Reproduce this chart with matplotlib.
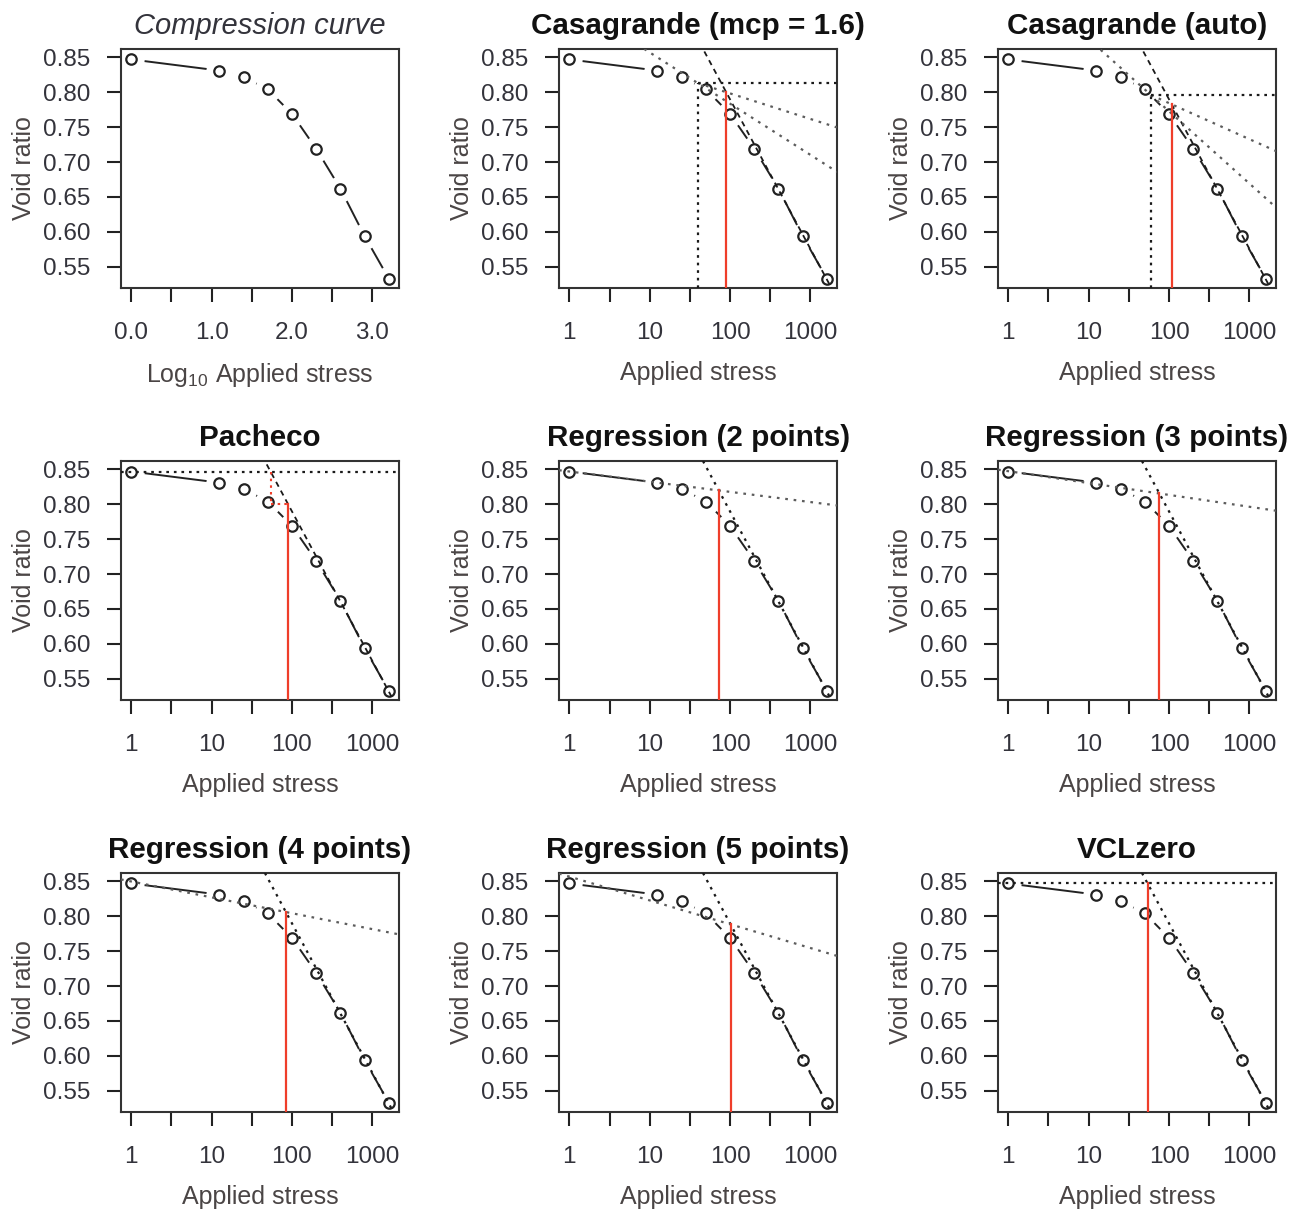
import numpy as np
import matplotlib
matplotlib.use("Agg")
import matplotlib.pyplot as plt

plt.rcParams['font.family'] = ['Liberation Sans', 'DejaVu Sans']
plt.rcParams['mathtext.fontset'] = 'custom'
plt.rcParams['mathtext.rm'] = 'Liberation Sans'
plt.rcParams['mathtext.it'] = 'Liberation Sans:italic'

# compression test data
stress = [1, 12.5, 25, 50, 100, 200, 400, 800, 1600]
void_ratio = [0.847, 0.831, 0.822, 0.804, 0.769, 0.719, 0.662, 0.594, 0.533]

titles = ["Compression curve", "Casagrande (mcp = 1.6)", "Casagrande (auto)",
          "Pacheco", "Regression (2 points)", "Regression (3 points)",
          "Regression (4 points)", "Regression (5 points)", "VCLzero"]

# max curvature points (log10 stress)
casa_mcp = [1.6, 1.775]
casa_e = [0.813, 0.796]
casa_slope = [-0.0734, -0.1035]

reg_points = [2, 3, 4, 5]
vcl_points = 3  # last points used for the compression line

yticks = [0.55, 0.60, 0.65, 0.70, 0.75, 0.80, 0.85]
ylim = (0.5195, 0.862)
lxlim = (-0.128, 3.332)

TXT = '#33333b'
LAB = '#4a4545'
RED = '#ef3e2a'
GREY = '#5c5c5c'
DARK = '#1a1a1a'

lx_data = np.log10(stress)
e_data = np.array(void_ratio)
vcl_b, vcl_a = np.polyfit(lx_data[-vcl_points:], e_data[-vcl_points:], 1)


def vcl_x(e):
    return (e - vcl_a) / vcl_b


def meet(a, b):
    # intersection of e = a + b*lx with the compression line
    lx = (vcl_a - a) / (b - vcl_b)
    return lx, a + b * lx


def full_line(ax, a, b, **kw):
    lx = np.array(lxlim)
    ax.plot(10 ** lx, a + b * lx, zorder=3, **kw)


fig = plt.figure(figsize=(12.98, 12.12), dpi=100)
col_left = [0.0932, 0.4307, 0.7689]
row_bottom = [0.7624, 0.4224, 0.0825]
w, h = 0.2142, 0.1972

for i, title in enumerate(titles):
    ax = fig.add_axes([col_left[i % 3], row_bottom[i // 3], w, h])
    if i == 0:
        x = lx_data
        ax.set_xlim(lxlim)
        ax.set_xticks([0, 0.5, 1, 1.5, 2, 2.5, 3])
        ax.set_xticklabels(["0.0", "", "1.0", "", "2.0", "", "3.0"])
        ax.set_xlabel("Log$_{10}$ Applied stress", fontsize=18, color=LAB, labelpad=12)
        ax.set_title(title, fontsize=21, style='italic', color=TXT, pad=11)
    else:
        x = np.array(stress)
        ax.set_xscale('log')
        ax.set_xlim(10 ** lxlim[0], 10 ** lxlim[1])
        ax.set_xticks(10 ** np.array([0, 0.5, 1, 1.5, 2, 2.5, 3]))
        ax.set_xticklabels(["1", "", "10", "", "100", "", "1000"])
        ax.minorticks_off()
        ax.set_xlabel("Applied stress", fontsize=18, color=LAB, labelpad=12)
        ax.set_title(title, fontsize=21.3, fontweight='bold', color='#111111', pad=11)

    ax.set_ylim(ylim)
    ax.set_yticks(yticks)
    ax.set_yticklabels(["%.2f" % v for v in yticks])
    ax.set_ylabel("Void ratio", fontsize=18, color=LAB, labelpad=5)
    ax.tick_params(axis='both', direction='out', length=10, width=1.5,
                   labelsize=17.5, labelcolor=TXT, color='#222222')
    ax.tick_params(axis='x', pad=14.5)
    ax.tick_params(axis='y', pad=12)
    for s in ax.spines.values():
        s.set_linewidth(1.5)
        s.set_color('#333333')

    # data line with gaps around the points
    ax.plot(x, e_data, color='#222222', lw=1.4, zorder=2)
    ax.plot(x, e_data, ls='none', marker='o', ms=19, mfc='white', mec='none', zorder=2.1)
    ax.plot(x, e_data, ls='none', marker='o', ms=7.5, mfc='none', mec='#222222',
            mew=1.6, zorder=2.2)

    if i == 0:
        continue

    if i in (1, 2):
        k = i - 1
        m, em, sl = casa_mcp[k], casa_e[k], casa_slope[k]
        bis = -np.tan(np.arctan(-sl) / 2)
        full_line(ax, vcl_a, vcl_b, color=DARK, lw=1.3, ls=(0, (3, 2.5)))
        full_line(ax, em - sl * m, sl, color=GREY, lw=1.6, ls=(0, (1.2, 2.6)))
        lxr = np.array([m, lxlim[1]])
        ax.plot(10 ** lxr, em + bis * (lxr - m), color=GREY, lw=1.6,
                ls=(0, (1.2, 2.6)), zorder=3)
        ax.plot(10 ** lxr, [em, em], color=DARK, lw=1.6, ls=(0, (1.2, 2.2)), zorder=3)
        ax.plot([10 ** m, 10 ** m], [ylim[0], em], color=DARK, lw=1.6,
                ls=(0, (1.2, 2.2)), zorder=3)
        px, pe = meet(em - bis * m, bis)
        ax.plot([10 ** px, 10 ** px], [ylim[0], pe], color=RED, lw=1.6, zorder=4)
    elif i == 3:
        e0 = e_data[0]
        full_line(ax, vcl_a, vcl_b, color=DARK, lw=1.3, ls=(0, (3, 2.5)))
        full_line(ax, e0, 0, color=DARK, lw=1.6, ls=(0, (1.2, 2.2)))
        x1 = vcl_x(e0)
        e1 = np.interp(x1, lx_data, e_data)
        x2 = vcl_x(e1)
        ax.plot([10 ** x1, 10 ** x1], [e0, e1], color=RED, lw=1.5, ls=(0, (1.2, 2)), zorder=4)
        ax.plot([10 ** x1, 10 ** x2], [e1, e1], color=RED, lw=1.5, ls=(0, (1.2, 2)), zorder=4)
        ax.plot([10 ** x2, 10 ** x2], [ylim[0], e1], color=RED, lw=1.6, zorder=4)
    elif i == 8:
        e0 = e_data[0]
        full_line(ax, vcl_a, vcl_b, color=DARK, lw=1.6, ls=(0, (1.2, 2.4)))
        full_line(ax, e0, 0, color=DARK, lw=1.6, ls=(0, (1.2, 2.2)))
        x1 = vcl_x(e0)
        ax.plot([10 ** x1, 10 ** x1], [ylim[0], e0], color=RED, lw=1.6, zorder=4)
    else:
        n = reg_points[i - 4]
        b, a = np.polyfit(lx_data[:n], e_data[:n], 1)
        full_line(ax, vcl_a, vcl_b, color=DARK, lw=1.6, ls=(0, (1.2, 2.4)))
        full_line(ax, a, b, color=GREY, lw=1.6, ls=(0, (1.2, 2.6)))
        px, pe = meet(a, b)
        ax.plot([10 ** px, 10 ** px], [ylim[0], pe], color=RED, lw=1.6, zorder=4)

fig.savefig("out.png", dpi=100)
plt.close(fig)
